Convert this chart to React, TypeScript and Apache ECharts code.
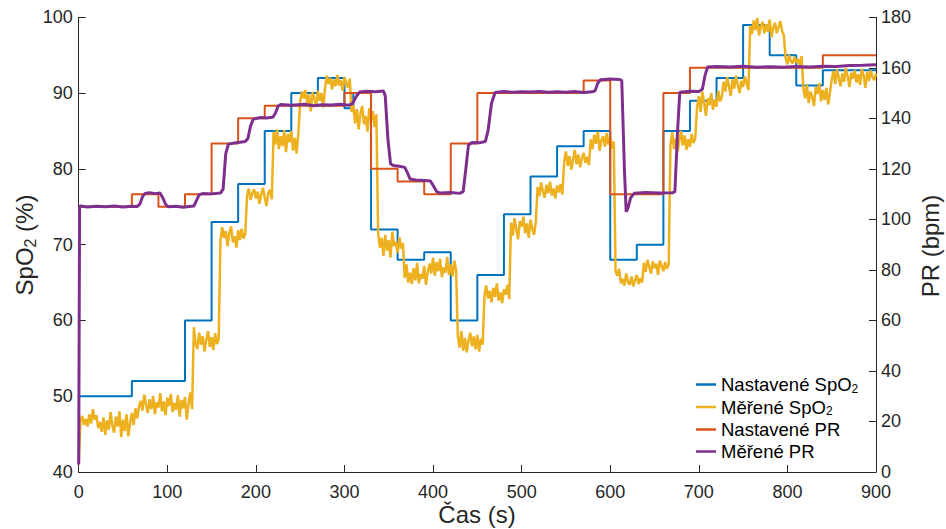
import React, { useEffect, useRef } from 'react';
import * as echarts from 'echarts';

const FONT = '"Liberation Sans", Arial, Helvetica, sans-serif';
const INK = '#262626';

// Time axis (s)
const xMin = 0;
const xMax = 900;
const xStep = 100;
// Left axis SpO2 (%)
const spo2Min = 40;
const spo2Max = 100;
const spo2Step = 10;
// Right axis PR (bpm)
const prMin = 0;
const prMax = 180;
const prStep = 20;

const seriesNames = ['Nastavené SpO2', 'Měřené SpO2', 'Nastavené PR', 'Měřené PR'];
const seriesColors = ['#0072BD', '#EDB120', '#D95319', '#7E2F8E'];

// Set SpO2 (step, value held until next time)
const setSpO2: [number, number][] = [
  [0, 50], [60, 52], [120, 60], [150, 73], [180, 78], [210, 85], [240, 90], [270, 92],
  [300, 88], [310, 90], [330, 72], [360, 68], [390, 69], [420, 60], [450, 66], [480, 74],
  [510, 79], [540, 83], [570, 85], [600, 68], [630, 70], [660, 85], [690, 89], [720, 92],
  [750, 99], [780, 95], [810, 91], [840, 93], [900, 93],
];

// Set PR (step)
const setPR: [number, number][] = [
  [0, 105], [60, 110], [90, 105], [120, 110], [150, 130], [180, 140], [210, 145], [300, 150],
  [330, 120], [360, 115], [390, 110], [420, 130], [450, 150], [570, 155], [600, 110],
  [660, 150], [690, 160], [840, 165], [900, 165],
];

// Measured PR
const measPR: [number, number][] = [
  [0, 3], [1, 105], [2, 105.3], [10, 104.9], [20, 105.2], [30, 105], [40, 105.3], [50, 104.9],
  [60, 105.2], [66, 105.1], [69, 106], [72, 109], [75, 110.3], [80, 110.6], [86, 110.2],
  [92, 110.4], [95, 108.5], [98, 106], [101, 105], [110, 105.2], [118, 104.8], [125, 105.1],
  [130, 105.3], [133, 107.5], [136, 109.8], [140, 110.2], [150, 110.1], [160, 110.4],
  [163, 112], [166, 126], [169, 129.8], [175, 130.2], [182, 130.5], [188, 130.8], [191, 132],
  [194, 137], [197, 139.7], [205, 140.3], [212, 140.1], [219, 140.4], [222, 142], [225, 144.8],
  [228, 145.5], [240, 145.2], [255, 145.6], [265, 145.0], [275, 145.4], [285, 145.3],
  [295, 145.6], [305, 145.2], [309, 145.8], [313, 148.5], [317, 150.4], [325, 150.7],
  [335, 150.5], [344, 150.8], [346, 149], [349, 132], [352, 122], [355, 121.3], [362, 121],
  [368, 120.6], [371, 118.5], [374, 116], [380, 115.6], [390, 115.4], [397, 115.2],
  [400, 113.5], [404, 111], [408, 110.4], [420, 110.6], [430, 110.3], [434, 111], [437, 120],
  [440, 129.5], [444, 130.4], [452, 130.3], [459, 130.8], [462, 135], [466, 146], [470, 150.2],
  [480, 150.6], [490, 150.3], [500, 150.5], [510, 150.4], [520, 150.6], [530, 150.3],
  [540, 150.5], [550, 150.3], [560, 150.6], [570, 150.2], [580, 150.5], [583, 151], [586, 154],
  [589, 155.3], [600, 155.6], [610, 155.4], [613, 155], [616, 120], [618, 103], [620, 104.5],
  [623, 108.5], [627, 110.3], [640, 110.6], [655, 110.4], [670, 110.5], [673, 111], [676, 135],
  [678.5, 150.3], [690, 150.7], [700, 150.6], [704, 151.5], [707, 157], [710, 160.3],
  [720, 160.5], [735, 160.3], [750, 160.6], [765, 160.2], [780, 160.4], [795, 160.2],
  [810, 160.5], [825, 160.3], [840, 160.6], [855, 160.5], [870, 160.9], [885, 161], [900, 161.2],
];

// Measured SpO2 (noisy)
const measSpO2: [number, number][] = [
  [0, 41], [2, 46.8], [4, 47.4], [6, 46.2], [8, 47.0], [10, 46.0], [12, 47.6], [14, 46.4], [16, 48.3], [18, 46.9],
  [20, 47.5], [22, 45.8], [24, 46.6], [26, 45.3], [28, 47.2], [30, 44.9], [32, 46.8], [34, 45.6], [36, 47.9], [38, 46.1],
  [40, 45.2], [42, 47.3], [44, 46.0], [46, 48.0], [48, 44.6], [50, 46.9], [52, 45.4], [54, 47.6], [56, 44.7], [58, 46.5],
  [60, 47.8], [62, 46.2], [64, 48.4],
  [66, 47.1], [68, 48.6], [70, 49.4], [72, 48.1], [74, 50.2], [76, 48.9], [78, 47.8], [80, 49.6], [82, 48.3], [84, 50.0],
  [86, 47.6], [88, 49.2], [90, 48.5], [92, 50.4], [94, 48.0], [96, 49.3], [98, 47.5], [100, 49.8], [102, 48.7], [104, 50.3],
  [106, 47.9], [108, 49.1], [110, 48.2], [112, 50.1], [114, 47.3], [116, 49.5], [118, 48.4], [120, 49.9], [122, 46.9],
  [124, 49.0], [126, 50.5], [128, 48.3],
  [130, 59.1], [132, 57.0], [134, 56.2], [136, 58.4], [138, 56.8], [140, 57.9], [142, 55.9], [144, 57.4], [146, 58.6],
  [148, 56.5], [150, 57.8], [152, 56.1], [154, 58.3], [156, 56.9], [158, 57.5],
  [160, 70.5], [162, 72.3], [164, 70.9], [166, 71.8], [168, 69.8], [170, 71.5], [172, 72.4], [174, 70.3], [176, 71.1],
  [178, 69.6], [180, 71.9], [182, 70.6], [184, 72.1], [186, 70.8], [188, 71.4],
  [190, 76.4], [192, 77.4], [194, 75.9], [196, 76.8], [198, 77.3], [200, 76.1], [202, 77.0], [204, 75.4], [206, 76.6],
  [208, 77.5], [210, 76.2], [212, 75.1], [214, 76.9], [216, 77.2], [218, 76.0],
  [220, 84.9], [222, 83.2], [224, 85.2], [226, 82.6], [228, 84.3], [230, 83.0], [232, 85.1], [234, 82.2], [236, 84.6],
  [238, 83.5], [240, 85.0], [242, 82.4], [244, 84.1], [246, 82.0], [248, 84.8],
  [250, 88.9], [252, 90.2], [254, 89.3], [256, 90.4], [258, 88.6], [260, 89.8], [262, 87.6], [264, 90.1], [266, 89.4],
  [268, 88.3], [270, 90.3], [272, 89.0], [274, 90.0], [276, 88.1],
  [278, 90.6], [280, 92.3], [282, 91.2], [284, 92.0], [286, 90.5], [288, 91.8], [290, 90.9], [292, 92.4], [294, 91.0],
  [296, 91.7], [298, 90.3], [300, 92.1], [302, 91.4], [304, 90.7], [306, 91.9],
  [308, 87.5], [310, 88.4], [312, 86.0], [314, 87.9], [316, 85.2], [318, 87.3], [320, 88.3], [322, 85.9], [324, 87.0],
  [326, 84.9], [328, 88.0], [330, 86.4], [332, 87.6], [334, 85.5], [336, 87.2],
  [338, 71.5], [340, 69.6], [342, 70.9], [344, 68.5], [346, 71.3], [348, 69.2], [350, 70.6], [352, 68.3], [354, 71.7],
  [356, 69.8], [358, 70.4], [360, 68.9], [362, 71.0], [364, 69.5], [366, 70.2],
  [368, 65.6], [370, 67.4], [372, 65.0], [374, 66.3], [376, 64.8], [378, 66.9], [380, 65.3], [382, 67.6], [384, 64.9],
  [386, 66.1], [388, 65.5], [390, 67.2], [392, 64.7], [394, 66.4],
  [396, 67.5], [398, 66.2], [400, 68.3], [402, 65.9], [404, 67.7], [406, 66.5], [408, 68.1], [410, 65.7], [412, 67.0],
  [414, 66.3], [416, 68.4], [418, 66.0], [420, 67.4], [422, 65.8], [424, 67.9], [426, 66.6],
  [428, 57.9], [430, 56.4], [432, 58.6], [434, 56.0], [436, 57.7], [438, 55.8], [440, 57.3], [442, 58.4], [444, 56.6],
  [446, 57.9], [448, 56.2], [450, 58.1], [452, 55.9], [454, 57.6], [456, 56.8],
  [458, 63.2], [460, 64.6], [462, 62.9], [464, 63.9], [466, 62.4], [468, 64.3], [470, 63.1], [472, 64.9], [474, 62.6],
  [476, 63.7], [478, 62.3], [480, 64.1], [482, 63.4], [484, 64.7], [486, 62.8],
  [488, 72.9], [490, 71.2], [492, 73.5], [494, 72.0], [496, 70.7], [498, 73.1], [500, 72.4], [502, 73.7], [504, 71.5],
  [506, 72.8], [508, 70.9], [510, 73.3], [512, 72.1], [514, 71.3], [516, 73.0],
  [518, 77.6], [520, 76.4], [522, 78.2], [524, 77.0], [526, 76.2], [528, 77.9], [530, 76.8], [532, 78.3], [534, 76.5],
  [536, 77.4], [538, 76.1], [540, 77.8], [542, 76.9], [544, 78.0], [546, 76.6],
  [548, 81.0], [550, 82.3], [552, 80.4], [554, 81.7], [556, 79.9], [558, 81.2], [560, 82.5], [562, 80.6], [564, 81.9],
  [566, 80.2], [568, 81.4], [570, 82.1], [572, 80.8], [574, 81.6], [576, 80.5],
  [578, 83.9], [580, 82.6], [582, 84.5], [584, 83.3], [586, 84.9], [588, 82.4], [590, 83.8], [592, 84.3], [594, 82.9],
  [596, 84.7], [598, 83.2], [600, 84.1], [602, 82.7], [604, 83.6],
  [606, 66.5], [608, 65.9], [610, 66.8], [612, 64.9], [614, 65.5], [616, 64.6], [618, 66.2], [620, 65.1], [622, 64.7],
  [624, 65.8], [626, 64.5], [628, 65.3], [630, 66.0], [632, 64.8], [634, 65.6], [636, 65.0],
  [638, 67.6], [640, 66.4], [642, 68.0], [644, 67.1], [646, 66.2], [648, 67.8], [650, 66.9], [652, 67.5], [654, 66.0],
  [656, 67.9], [658, 67.2], [660, 66.5], [662, 67.7], [664, 66.8], [666, 67.4],
  [668, 83.2], [670, 84.8], [672, 82.6], [674, 84.0], [676, 82.2], [678, 83.7], [680, 85.0], [682, 83.1], [684, 84.4],
  [686, 82.5], [688, 83.9], [690, 82.9], [692, 84.6], [694, 83.4], [696, 84.1],
  [698, 88.1], [700, 89.6], [702, 87.5], [704, 90.2], [706, 88.7], [708, 87.0], [710, 89.3], [712, 88.4], [714, 90.0],
  [716, 87.8], [718, 89.1], [720, 88.2], [722, 90.3], [724, 88.9], [726, 89.5],
  [728, 91.5], [730, 90.2], [732, 92.1], [734, 90.9], [736, 89.6], [738, 91.8], [740, 90.6], [742, 92.3], [744, 91.1],
  [746, 90.0], [748, 91.6], [750, 90.8], [752, 92.2], [754, 91.3], [756, 90.4],
  [758, 98.9], [760, 97.8], [762, 99.6], [764, 98.3], [766, 99.9], [768, 97.6], [770, 98.8], [772, 99.4], [774, 97.9],
  [776, 99.1], [778, 98.1], [780, 99.7], [782, 97.4], [784, 98.6], [786, 99.3], [788, 97.9], [790, 98.7], [792, 99.5],
  [794, 98.2], [796, 97.6],
  [798, 94.6], [800, 93.8], [802, 95.0], [804, 94.2], [806, 93.9], [808, 94.8], [810, 94.0], [812, 94.5], [814, 93.7],
  [816, 94.9],
  [818, 90.6], [820, 89.3], [822, 91.1], [824, 88.7], [826, 90.2], [828, 89.5], [830, 88.3], [832, 90.8], [834, 89.9],
  [836, 91.3], [838, 88.9], [840, 90.4], [842, 89.1], [844, 90.7], [846, 88.5], [848, 90.0],
  [850, 91.8], [852, 92.9], [854, 91.2], [856, 93.1], [858, 92.0], [860, 90.9], [862, 92.6], [864, 91.5], [866, 93.3],
  [868, 92.2], [870, 90.8], [872, 92.7], [874, 91.9], [876, 93.0], [878, 91.4], [880, 92.5], [882, 91.1], [884, 93.2],
  [886, 92.3], [888, 90.7], [890, 92.8], [892, 91.6], [894, 93.0], [896, 92.1], [898, 91.7], [900, 92.6],
];

const axisCommon = {
  axisLine: { show: true, onZero: false, lineStyle: { color: INK, width: 1 } },
  axisTick: { show: true, inside: true, length: 7, lineStyle: { color: INK, width: 1 } },
  splitLine: { show: false },
};

const labelStyle = { color: INK, fontSize: 18, lineHeight: 14, fontFamily: FONT };

export default function App() {
  const ref = useRef<HTMLDivElement>(null);

  useEffect(() => {
    if (!ref.current) return;
    const chart = echarts.init(ref.current, null, { renderer: 'svg' });

    const richTitle = {
      m: { fontSize: 24, lineHeight: 28, fontFamily: FONT, color: INK },
      s: { fontSize: 16, lineHeight: 16, fontFamily: FONT, color: INK, verticalAlign: 'bottom' },
    };

    const option: any = {
      animation: false,
      backgroundColor: '#ffffff',
      grid: { left: 78.7, right: 70, top: 17.3, bottom: 57, containLabel: false },
      xAxis: {
        type: 'value',
        min: xMin,
        max: xMax,
        interval: xStep,
        ...axisCommon,
        axisLabel: { ...labelStyle, margin: 12.5 },
      },
      yAxis: [
        {
          type: 'value',
          position: 'left',
          min: spo2Min,
          max: spo2Max,
          interval: spo2Step,
          ...axisCommon,
          axisLabel: { ...labelStyle, margin: 6 },
        },
        {
          type: 'value',
          position: 'right',
          min: prMin,
          max: prMax,
          interval: prStep,
          ...axisCommon,
          axisLabel: { ...labelStyle, margin: 5 },
        },
      ],
      legend: {
        orient: 'vertical',
        left: 691,
        top: 370,
        padding: 5,
        itemWidth: 20,
        itemHeight: 2.5,
        itemGap: 3,
        icon: 'rect',
        data: seriesNames,
        formatter: (name: string) =>
          name.endsWith('SpO2') ? `{n|${name.slice(0, -1)}}{s|2}` : `{n|${name}}`,
        textStyle: {
          fontSize: 18.5,
          fontFamily: FONT,
          color: '#000',
          rich: {
            n: { fontSize: 18.5, lineHeight: 20, fontFamily: FONT, color: '#000' },
            s: { fontSize: 12, lineHeight: 12, fontFamily: FONT, color: '#000', verticalAlign: 'bottom' },
          },
        },
      },
      graphic: [
        {
          type: 'text',
          x: 24,
          y: 245,
          rotation: Math.PI / 2,
          style: {
            text: '{m|SpO}{s|2}{m| (%)}',
            rich: richTitle,
            align: 'center',
            verticalAlign: 'middle',
            fill: INK,
          },
        },
        {
          type: 'text',
          x: 930,
          y: 246,
          rotation: Math.PI / 2,
          style: {
            text: 'PR (bpm)',
            fontSize: 24,
            fontFamily: FONT,
            align: 'center',
            verticalAlign: 'middle',
            fill: INK,
          },
        },
        {
          type: 'text',
          x: 477,
          y: 514,
          style: {
            text: 'Čas (s)',
            fontSize: 24,
            fontFamily: FONT,
            align: 'center',
            verticalAlign: 'middle',
            fill: INK,
          },
        },
      ],
      series: [
        {
          name: seriesNames[0],
          type: 'line',
          step: 'end',
          yAxisIndex: 0,
          data: setSpO2,
          symbol: 'none',
          lineStyle: { width: 2, color: seriesColors[0] },
          itemStyle: { color: seriesColors[0] },
        },
        {
          name: seriesNames[1],
          type: 'line',
          yAxisIndex: 0,
          data: measSpO2,
          symbol: 'none',
          lineStyle: { width: 2.5, color: seriesColors[1] },
          itemStyle: { color: seriesColors[1] },
        },
        {
          name: seriesNames[2],
          type: 'line',
          step: 'end',
          yAxisIndex: 1,
          data: setPR,
          symbol: 'none',
          lineStyle: { width: 2, color: seriesColors[2] },
          itemStyle: { color: seriesColors[2] },
        },
        {
          name: seriesNames[3],
          type: 'line',
          yAxisIndex: 1,
          data: measPR,
          symbol: 'none',
          lineStyle: { width: 3, color: seriesColors[3] },
          itemStyle: { color: seriesColors[3] },
        },
      ],
    };

    chart.setOption(option);
    return () => chart.dispose();
  }, []);

  return (
    <div
      ref={ref}
      style={{ position: 'fixed', left: 0, top: 0, width: 946, height: 529, background: '#fff' }}
    />
  );
}
